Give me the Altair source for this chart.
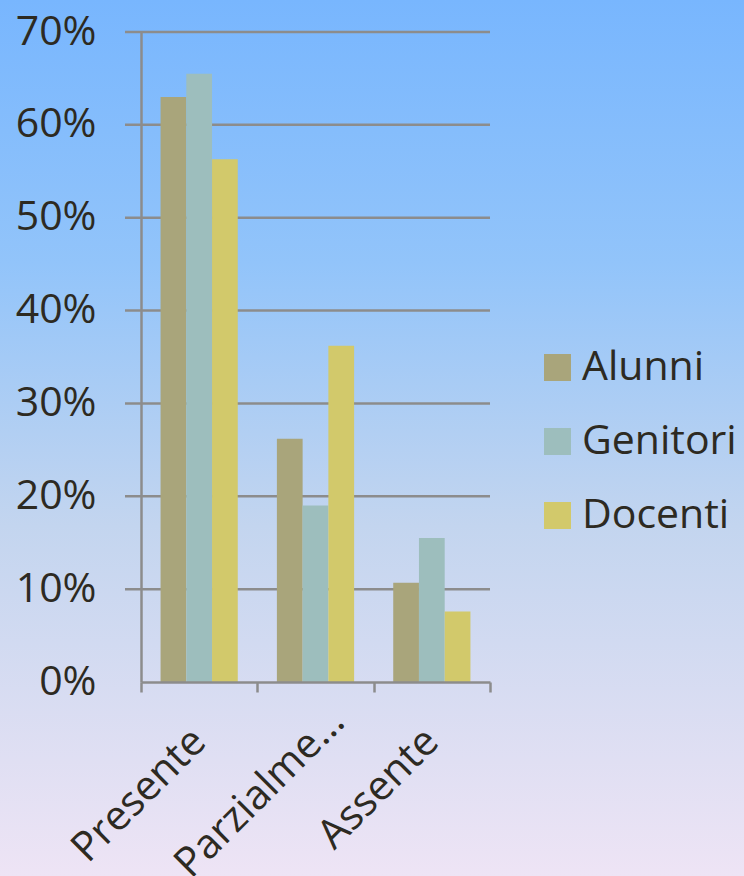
import altair as alt
import pandas as pd

categories = ["Presente", "Parzialmente", "Assente"]
series = ["Alunni", "Genitori", "Docenti"]
alunni = [0.630, 0.262, 0.107]
genitori = [0.655, 0.190, 0.155]
docenti = [0.563, 0.362, 0.076]
y_ticks = [0.0, 0.1, 0.2, 0.3, 0.4, 0.5, 0.6, 0.7]
colors = ["#a9a57b", "#9dbebd", "#d2c96b"]

rows = []
for i, c in enumerate(categories):
    for s, vals in zip(series, [alunni, genitori, docenti]):
        rows.append({"categoria": c, "gruppo": s, "valore": vals[i]})
df = pd.DataFrame(rows)
grid_df = pd.DataFrame({"tick": y_ticks[1:]})

W, H = 349, 650
PL, PT, PR, PB = 141, 32, 254, 194
FONT = "Open Sans"
TXT = "#2d2a22"
GRID = "#8c8c8c"

bg = alt.Chart(pd.DataFrame({"a": [0]})).mark_rect(
    fill=alt.Gradient(
        gradient="linear", x1=0, y1=0, x2=0, y2=1,
        stops=[
            alt.GradientStop(offset=0, color="#78b6fe"),
            alt.GradientStop(offset=0.3, color="#92c4fa"),
            alt.GradientStop(offset=0.6, color="#c3d5ef"),
            alt.GradientStop(offset=1, color="#eee4f5"),
        ],
    )
).encode(
    x=alt.value(-PL), x2=alt.value(W + PR),
    y=alt.value(-PT), y2=alt.value(H + PB),
)

yscale = alt.Scale(domain=[0, 0.7], nice=False)
yaxis = alt.Axis(
    title=None, values=y_ticks, format=".0%", grid=False,
    labelFontSize=41, labelFont=FONT, labelColor=TXT, labelPadding=45,
    ticks=False, domainColor=GRID, domainWidth=2.5, zindex=1,
)

grid = alt.Chart(grid_df).mark_rule(color=GRID, strokeWidth=2.5).encode(
    y=alt.Y("tick:Q", scale=yscale, axis=yaxis),
    x=alt.value(-16), x2=alt.value(W),
)

bars = alt.Chart(df).mark_bar().encode(
    x=alt.X(
        "categoria:N", sort=categories,
        scale=alt.Scale(paddingInner=0, paddingOuter=0),
        axis=alt.Axis(
            title=None, labelAngle=-45, labelAlign="right", labelBaseline="middle",
            labelFontSize=41, labelFont=FONT, labelColor=TXT,
            labelPadding=alt.ExprRef(expr="datum.value == 'Parzialmente' ? 23 : 43"),
            labelOffset=alt.ExprRef(expr="datum.value == 'Parzialmente' ? 22 : 0"),
            labelLimit=400,
            tickBand="extent", tickSize=10, tickColor=GRID, tickWidth=2.5,
            domainColor=GRID, domainWidth=2.5, grid=False, zindex=1,
            labelExpr="datum.label == 'Parzialmente' ? 'Parzialme…' : datum.label",
        ),
    ),
    xOffset=alt.XOffset(
        "gruppo:N", sort=series,
        scale=alt.Scale(paddingInner=0, paddingOuter=0.76),
    ),
    y=alt.Y("valore:Q", scale=yscale, axis=yaxis),
    color=alt.Color(
        "gruppo:N", sort=series,
        scale=alt.Scale(domain=series, range=colors),
        legend=alt.Legend(
            title=None, orient="none", legendX=396, legendY=315,
            symbolType="square", symbolSize=729, symbolStrokeWidth=0,
            symbolOpacity=1, labelLimit=400,
            labelFontSize=41, labelFont=FONT, labelColor=TXT,
            labelOffset=4, rowPadding=32,
        ),
    ),
)

chart = alt.layer(bg, grid, bars).properties(
    width=W, height=H,
    padding={"left": PL, "top": PT, "right": PR, "bottom": PB},
    autosize=alt.AutoSizeParams(type="none"),
).configure_view(stroke=None).configure(background="#eee4f5")

chart.save("out.html", embed_options={"renderer": "svg", "actions": False})
